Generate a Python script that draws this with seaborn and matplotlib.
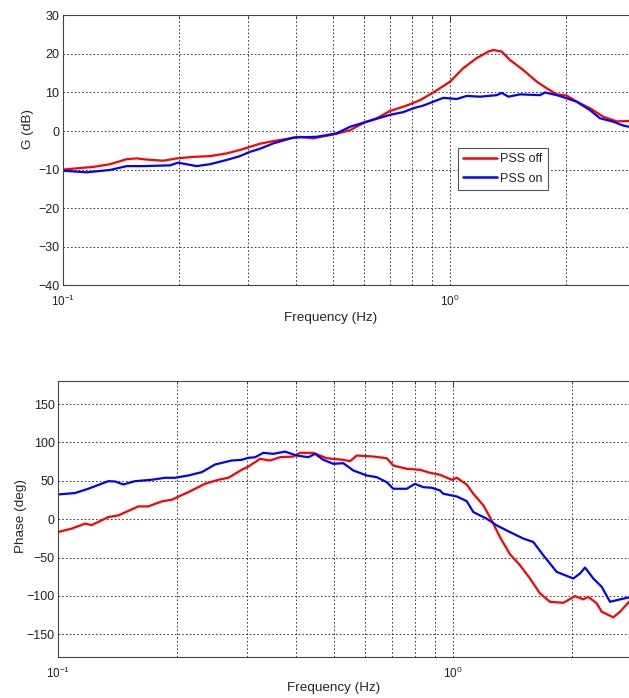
import numpy as np
import pandas as pd
import matplotlib
matplotlib.use("Agg")
import matplotlib.pyplot as plt
from matplotlib.ticker import LogLocator, NullFormatter, MultipleLocator
import seaborn as sns

# ---- gain (dB) ----
gain_off_freq = [0.1000, 0.1198, 0.1323, 0.1461, 0.1551, 0.1646, 0.1817, 0.1968, 0.2173, 0.2400,
                 0.2650, 0.2869, 0.3045, 0.3231, 0.3499, 0.4102, 0.4432, 0.5000, 0.5523, 0.6039,
                 0.6474, 0.7010, 0.7741, 0.8379, 0.9069, 0.9439, 1.002, 1.084, 1.174, 1.259,
                 1.297, 1.363, 1.432, 1.550, 1.679, 1.781, 1.891, 2.007, 2.130, 2.306,
                 2.496, 2.704, 2.909]
gain_off = [-10.0, -9.3, -8.6, -7.3, -7.1, -7.4, -7.7, -7.1, -6.7, -6.5,
            -5.8, -4.9, -4.1, -3.3, -2.6, -1.5, -1.9, -0.9, 0.2, 2.3,
            3.3, 5.2, 6.6, 8.0, 10.0, 11.1, 12.8, 16.3, 18.9, 20.6,
            21.0, 20.6, 18.4, 15.8, 12.8, 11.1, 9.5, 9.2, 7.6, 5.9,
            3.7, 2.5, 2.6]

gain_on_freq = [0.1000, 0.1152, 0.1323, 0.1461, 0.1613, 0.1891, 0.1984, 0.2216, 0.2400, 0.2650,
                0.2869, 0.3045, 0.3231, 0.3499, 0.3940, 0.4531, 0.5103, 0.5523, 0.6100, 0.7010,
                0.7586, 0.8052, 0.8545, 0.9069, 0.9627, 1.042, 1.107, 1.198, 1.323, 1.363,
                1.418, 1.520, 1.712, 1.764, 1.891, 2.007, 2.130, 2.306, 2.447, 2.650,
                2.812, 2.909]
gain_on = [-10.3, -10.7, -10.1, -9.1, -9.1, -8.9, -8.2, -9.1, -8.6, -7.5,
           -6.5, -5.4, -4.6, -3.2, -1.7, -1.5, -0.6, 1.1, 2.4, 4.2,
           4.9, 5.9, 6.6, 7.6, 8.6, 8.3, 9.1, 8.9, 9.3, 9.9,
           8.9, 9.5, 9.3, 10.0, 9.3, 8.5, 7.6, 5.4, 3.3, 2.4,
           1.4, 1.1]

# ---- phase (deg) ----
phase_off_freq = [0.1000, 0.1081, 0.1169, 0.1215, 0.1339, 0.1419, 0.1595, 0.1690, 0.1828, 0.1938,
                  0.2135, 0.2353, 0.2543, 0.2697, 0.2915, 0.3030, 0.3150, 0.3243, 0.3439, 0.3645,
                  0.3939, 0.4096, 0.4428, 0.4786, 0.5274, 0.5483, 0.5702, 0.6282, 0.6793, 0.7059,
                  0.7633, 0.8249, 0.8744, 0.9270, 0.9924, 1.022, 1.083, 1.126, 1.194, 1.253,
                  1.315, 1.394, 1.478, 1.567, 1.661, 1.761, 1.903, 2.037, 2.138, 2.202,
                  2.312, 2.381, 2.547, 2.650, 2.792]
phase_off = [-16.7, -12.3, -5.8, -7.7, 2.7, 4.9, 16.6, 16.6, 23.1, 25.3,
             35.2, 46.1, 51.3, 53.9, 64.3, 68.6, 74.2, 78.6, 76.4, 80.7,
             81.6, 86.4, 86.4, 79.4, 77.3, 75.5, 82.9, 81.6, 79.4, 69.9,
             65.6, 64.3, 60.4, 57.8, 51.3, 53.9, 45.2, 33.1, 17.9, -1.6,
             -23.3, -45.7, -60.0, -77.3, -96.8, -107.7, -109.0, -100.3, -104.5, -101.2,
             -109.7, -120.6, -127.9, -120.6, -107.7]

phase_on_freq = [0.1000, 0.1102, 0.1191, 0.1339, 0.1392, 0.1461, 0.1564, 0.1724, 0.1863, 0.1975,
                 0.2135, 0.2309, 0.2495, 0.2750, 0.2915, 0.3030, 0.3150, 0.3307, 0.3506, 0.3753,
                 0.4018, 0.4300, 0.4472, 0.4693, 0.4974, 0.5274, 0.5590, 0.6045, 0.6408, 0.6793,
                 0.7059, 0.7633, 0.8011, 0.8409, 0.8831, 0.9270, 0.9450, 1.022, 1.083, 1.126,
                 1.217, 1.290, 1.394, 1.507, 1.597, 1.693, 1.831, 2.017, 2.098, 2.160,
                 2.267, 2.381, 2.499, 2.650, 2.792]
phase_on = [32.2, 34.0, 39.6, 49.5, 49.1, 45.2, 49.5, 51.3, 53.9, 53.9,
            56.9, 61.2, 71.2, 76.4, 77.3, 79.9, 80.6, 86.4, 85.1, 88.0,
            82.9, 80.7, 85.1, 77.3, 72.1, 72.9, 63.4, 56.9, 54.7, 48.2,
            39.6, 39.6, 46.0, 41.7, 40.9, 37.4, 33.1, 29.6, 23.5, 9.2,
            0.6, -8.1, -16.8, -25.3, -29.7, -47.0, -68.7, -77.3, -70.8, -63.0,
            -77.3, -88.2, -107.7, -104.5, -102.0]

series_names = ["PSS off", "PSS on"]
palette = {"PSS off": "#ff0000", "PSS on": "#0000ff"}


def long_frame(freq_a, val_a, freq_b, val_b):
    return pd.concat([
        pd.DataFrame({"freq": freq_a, "value": val_a, "series": series_names[0]}),
        pd.DataFrame({"freq": freq_b, "value": val_b, "series": series_names[1]}),
    ], ignore_index=True)


gain_df = long_frame(gain_off_freq, gain_off, gain_on_freq, gain_on)
phase_df = long_frame(phase_off_freq, phase_off, phase_on_freq, phase_on)

sns.set_theme(style="white")
plt.rcParams["font.family"] = ["Liberation Sans", "DejaVu Sans"]
plt.rcParams["axes.unicode_minus"] = True

W, H = 629, 698
fig = plt.figure(figsize=(W / 100, H / 100), dpi=100)


def px_axes(left, top, right, bottom):
    return fig.add_axes([left / W, 1 - bottom / H, (right - left) / W, (bottom - top) / H])


ax1 = px_axes(63, 15.3, 640, 285.3)
ax2 = px_axes(58.3, 381, 640, 657.3)

grid_kw = dict(color="#222222", linestyle=(0, (2, 2.5)), linewidth=0.6)
LABEL_SIZE = 9.7


def style_axes(ax, xmax):
    ax.set_xscale("log")
    ax.set_xlim(0.1, xmax)
    ax.xaxis.set_major_locator(LogLocator(base=10))
    ax.xaxis.set_minor_locator(LogLocator(base=10, subs=np.arange(2, 10)))
    ax.xaxis.set_minor_formatter(NullFormatter())
    ax.grid(True, which="both", axis="x", **grid_kw)
    ax.grid(True, which="major", axis="y", **grid_kw)
    ax.tick_params(axis="both", which="both", direction="in", top=True, right=False,
                   colors="#222222")
    ax.tick_params(axis="y", which="major", length=4, width=0.6, labelsize=9, pad=2.5)
    ax.tick_params(axis="x", which="major", length=4, width=0.6, labelsize=8.5, pad=6)
    ax.tick_params(axis="x", which="minor", length=2.5, width=0.5)
    for side in ("left", "bottom", "top"):
        ax.spines[side].set_color("#444444")
        ax.spines[side].set_linewidth(0.8)
    ax.spines["right"].set_visible(False)
    ax.set_axisbelow(True)


sns.lineplot(data=gain_df, x="freq", y="value", hue="series", palette=palette,
             estimator=None, sort=False, linewidth=1.6, ax=ax1)
sns.lineplot(data=phase_df, x="freq", y="value", hue="series", palette=palette,
             estimator=None, sort=False, linewidth=1.6, legend=False, ax=ax2)

style_axes(ax1, 3.105)
ax1.set_ylim(-40, 30)
ax1.yaxis.set_major_locator(MultipleLocator(10))
ax1.set_xlabel("Frequency (Hz)", fontsize=LABEL_SIZE)
ax1.set_ylabel("G (dB)", fontsize=LABEL_SIZE)
ax1.xaxis.set_label_coords(0.463, -0.100)
ax1.yaxis.set_label_coords(-0.050, 0.579)

style_axes(ax2, 2.977)
ax2.set_ylim(-180, 180)
ax2.set_yticks([-150, -100, -50, 0, 50, 100, 150])
ax2.set_xlabel("Frequency (Hz)", fontsize=LABEL_SIZE)
ax2.set_ylabel("Phase (deg)", fontsize=LABEL_SIZE)
ax2.xaxis.set_label_coords(0.474, -0.090)
ax2.yaxis.set_label_coords(-0.054, 0.51)

leg = ax1.legend(title=None, loc="upper left", bbox_to_anchor=(0.684, 0.5096),
                 borderaxespad=0, fontsize=9, handlelength=2.7, handletextpad=0.2,
                 borderpad=0.45, labelspacing=0.6, frameon=True, fancybox=False,
                 framealpha=1)
leg.get_frame().set_edgecolor("#555555")
leg.get_frame().set_linewidth(0.8)
for line in leg.get_lines():
    line.set_linewidth(1.8)

fig.savefig("out.png", dpi=100)
